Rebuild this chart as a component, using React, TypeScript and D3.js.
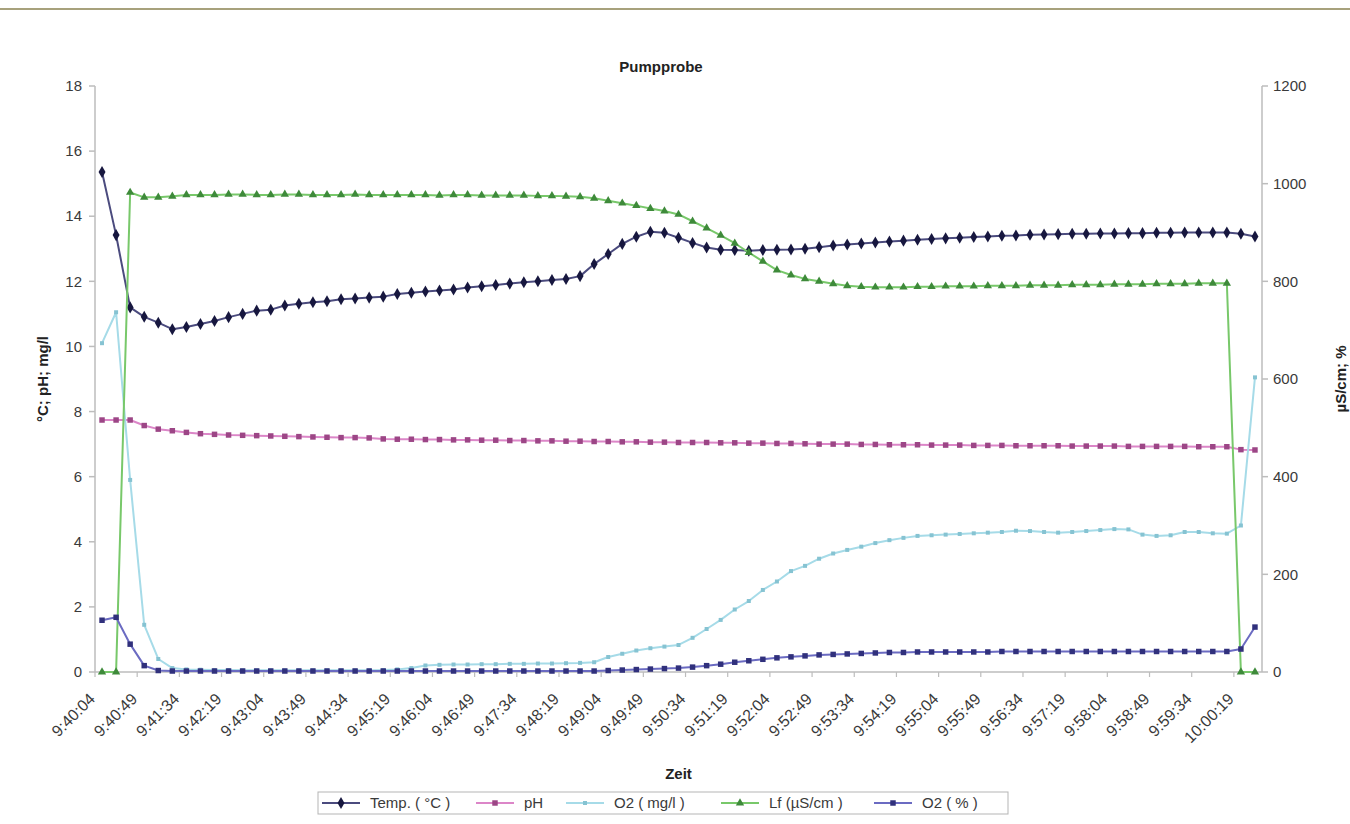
import React from "react";
import * as d3 from "d3";

// Sample times are every 15 s; every third one is labelled on the axis.
const tickLabels = [
  "9:40:04", "9:40:49", "9:41:34", "9:42:19", "9:43:04", "9:43:49", "9:44:34",
  "9:45:19", "9:46:04", "9:46:49", "9:47:34", "9:48:19", "9:49:04", "9:49:49",
  "9:50:34", "9:51:19", "9:52:04", "9:52:49", "9:53:34", "9:54:19", "9:55:04",
  "9:55:49", "9:56:34", "9:57:19", "9:58:04", "9:58:49", "9:59:34", "10:00:19",
];

// Temperature (°C), left axis
const temp = [
  15.36, 13.42, 11.2, 10.91, 10.73, 10.53, 10.6, 10.69, 10.78, 10.9,
  11.0, 11.1, 11.13, 11.26, 11.31, 11.36, 11.39, 11.45, 11.47, 11.5,
  11.53, 11.61, 11.65, 11.69, 11.72, 11.75, 11.81, 11.85, 11.89, 11.93,
  11.97, 12.0, 12.04, 12.07, 12.16, 12.53, 12.84, 13.15, 13.37, 13.52,
  13.49, 13.34, 13.18, 13.04, 12.97, 12.96, 12.94, 12.96, 12.97, 12.98,
  13.0, 13.05, 13.1, 13.13, 13.16, 13.19, 13.22, 13.25, 13.28, 13.3,
  13.32, 13.34, 13.36, 13.38, 13.4, 13.41, 13.43, 13.44, 13.45, 13.46,
  13.46, 13.47, 13.47, 13.48, 13.48, 13.49, 13.49, 13.5, 13.5, 13.5,
  13.5, 13.46, 13.38,
];

// pH, left axis
const ph = [
  7.74, 7.74, 7.74, 7.57, 7.46, 7.41, 7.36, 7.32, 7.3, 7.28,
  7.27, 7.26, 7.25, 7.24, 7.23, 7.22, 7.21, 7.2, 7.2, 7.19,
  7.16, 7.15, 7.15, 7.14, 7.14, 7.13, 7.13, 7.12, 7.12, 7.11,
  7.11, 7.1, 7.1, 7.09, 7.09, 7.08, 7.08, 7.07, 7.07, 7.06,
  7.06, 7.05, 7.05, 7.05, 7.04, 7.04, 7.03, 7.03, 7.02, 7.02,
  7.01, 7.0, 7.0, 7.0, 6.99, 6.99, 6.98, 6.98, 6.98, 6.97,
  6.97, 6.97, 6.96, 6.96, 6.96, 6.95, 6.95, 6.95, 6.95, 6.94,
  6.94, 6.94, 6.94, 6.93, 6.93, 6.93, 6.93, 6.93, 6.92, 6.92,
  6.92, 6.83, 6.82,
];

// Dissolved oxygen (mg/l), left axis
const o2mg = [
  10.1, 11.05, 5.9, 1.45, 0.4, 0.12, 0.08, 0.07, 0.06, 0.06,
  0.05, 0.05, 0.05, 0.05, 0.05, 0.05, 0.05, 0.05, 0.05, 0.05,
  0.06, 0.08, 0.12, 0.2, 0.22, 0.23, 0.23, 0.24, 0.24, 0.25,
  0.25, 0.26, 0.26, 0.27, 0.28, 0.3, 0.46, 0.56, 0.66, 0.73,
  0.78, 0.83, 1.05, 1.32, 1.6, 1.92, 2.18, 2.52, 2.78, 3.1,
  3.26, 3.48, 3.64, 3.75, 3.85, 3.96, 4.05, 4.12, 4.18, 4.2,
  4.22, 4.24, 4.26, 4.28, 4.3, 4.34, 4.33, 4.3, 4.28, 4.3,
  4.33, 4.36, 4.39, 4.38, 4.22, 4.18, 4.2, 4.3, 4.3, 4.26,
  4.25, 4.5, 9.05,
];

// Conductivity (µS/cm), right axis
const lf = [
  0, 0, 982, 972, 972, 974, 977, 977, 977, 978,
  978, 977, 977, 978, 978, 977, 977, 977, 978, 977,
  977, 977, 977, 977, 976, 977, 977, 976, 976, 976,
  976, 975, 975, 974, 973, 970, 965, 960, 955, 949,
  944, 937, 923, 909, 894, 878, 859, 841, 823, 813,
  805, 800, 795, 791, 789, 788, 788, 788, 789, 789,
  790, 790, 790, 791, 791, 791, 792, 792, 792, 793,
  793, 793, 794, 794, 794, 795, 795, 795, 796, 796,
  796, 0, 0,
];

// Oxygen saturation (%), right axis
const o2pct = [
  106, 112, 57, 13, 3, 2, 2, 2, 2, 2,
  2, 2, 2, 2, 2, 2, 2, 2, 2, 2,
  2, 2, 2, 2, 2, 2, 2, 2, 2, 2,
  2, 2, 2, 2, 2, 2, 3, 4, 5, 6,
  7, 8, 10, 13, 16, 20, 23, 26, 29, 31,
  33, 35, 36, 37, 38, 39, 40, 40, 41, 41,
  41, 41, 41, 41, 42, 42, 42, 42, 42, 42,
  42, 42, 42, 42, 42, 42, 42, 42, 42, 42,
  42, 47, 92,
];

const leftTicks = [0, 2, 4, 6, 8, 10, 12, 14, 16, 18];
const rightTicks = [0, 200, 400, 600, 800, 1000, 1200];

const W = 1350;
const H = 824;
const plot = { left: 95, right: 1262, top: 86, bottom: 672 };
const FONT = "'Liberation Sans', Arial, sans-serif";
const AXIS_COLOR = "#bdbdbd";
const TEXT_COLOR = "#3a3a3a";

type Series = {
  name: string;
  values: number[];
  axis: "L" | "R";
  line: string;
  marker: string;
  symbol: d3.SymbolType;
  size: number;
  width: number;
};

const series: Series[] = [
  { name: "Temp. ( °C )", values: temp, axis: "L", line: "#4b4b7e", marker: "#17173f", symbol: d3.symbolDiamond, size: 42, width: 2 },
  { name: "pH", values: ph, axis: "L", line: "#dc86c8", marker: "#9c4686", symbol: d3.symbolSquare, size: 30, width: 2 },
  { name: "O2 ( mg/l )", values: o2mg, axis: "L", line: "#a6dbe8", marker: "#86c3d2", symbol: d3.symbolSquare, size: 16, width: 2 },
  { name: "Lf (µS/cm )", values: lf, axis: "R", line: "#78c86a", marker: "#3e8a3a", symbol: d3.symbolTriangle, size: 30, width: 2 },
  { name: "O2 ( % )", values: o2pct, axis: "R", line: "#6b6bc2", marker: "#30307c", symbol: d3.symbolSquare, size: 30, width: 2 },
];

// Legend layout: start of each sample line and of each label
const legendSampleX = [322, 476, 566, 721, 874];
const legendBox = { x: 318, y: 792, w: 690, h: 22 };

export default function App() {
  const idx = d3.range(temp.length);
  const x = d3.scaleBand<number>().domain(idx).range([plot.left, plot.right]).padding(0);
  const cx = (i: number) => (x(i) as number) + x.bandwidth() / 2;
  const yL = d3.scaleLinear().domain([0, 18]).range([plot.bottom, plot.top]);
  const yR = d3.scaleLinear().domain([0, 1200]).range([plot.bottom, plot.top]);

  const labelIdx = tickLabels.map((_, k) => k * 3);
  const tickBoundaries = d3.range(0, idx.length + 1, 3);

  return (
    <svg
      width={W}
      height={H}
      viewBox={`0 0 ${W} ${H}`}
      style={{ position: "absolute", left: 0, top: 0, background: "#ffffff", fontFamily: FONT }}
    >
      <rect x={0} y={0} width={W} height={H} fill="#ffffff" />
      {/* page rule */}
      <line x1={0} x2={W} y1={9} y2={9} stroke="#a7a17c" strokeWidth={2.2} />

      {/* title */}
      <text x={661} y={72} textAnchor="middle" fontSize={15} fontWeight="bold" fill="#222">
        Pumpprobe
      </text>

      {/* left axis */}
      <line x1={plot.left} x2={plot.left} y1={plot.top} y2={plot.bottom} stroke={AXIS_COLOR} strokeWidth={1.5} />
      {leftTicks.map((t) => (
        <g key={`l${t}`}>
          <line x1={plot.left - 6} x2={plot.left} y1={yL(t)} y2={yL(t)} stroke={AXIS_COLOR} strokeWidth={1.5} />
          <text x={plot.left - 13} y={yL(t)} dy="0.35em" textAnchor="end" fontSize={15} fill={TEXT_COLOR}>
            {t}
          </text>
        </g>
      ))}

      {/* right axis */}
      <line x1={plot.right} x2={plot.right} y1={plot.top} y2={plot.bottom} stroke={AXIS_COLOR} strokeWidth={1.5} />
      {rightTicks.map((t) => (
        <g key={`r${t}`}>
          <line x1={plot.right} x2={plot.right + 6} y1={yR(t)} y2={yR(t)} stroke={AXIS_COLOR} strokeWidth={1.5} />
          <text x={plot.right + 11} y={yR(t)} dy="0.35em" textAnchor="start" fontSize={15} fill={TEXT_COLOR}>
            {t}
          </text>
        </g>
      ))}

      {/* category axis */}
      <line x1={plot.left} x2={plot.right} y1={plot.bottom} y2={plot.bottom} stroke={AXIS_COLOR} strokeWidth={1.5} />
      {tickBoundaries.map((b) => {
        const bx = b < idx.length ? (x(b) as number) : plot.right;
        return <line key={`t${b}`} x1={bx} x2={bx} y1={plot.bottom} y2={plot.bottom + 5} stroke={AXIS_COLOR} strokeWidth={1.2} />;
      })}
      {labelIdx.map((i, k) => (
        <text
          key={`xl${k}`}
          transform={`translate(${cx(i) - 6},${700}) rotate(-45)`}
          textAnchor="end"
          fontSize={16}
          fill={TEXT_COLOR}
        >
          {tickLabels[k]}
        </text>
      ))}

      {/* axis titles */}
      <text transform={`translate(48,${(plot.top + plot.bottom) / 2}) rotate(-90)`} textAnchor="middle" fontSize={15} fontWeight="bold" fill="#222">
        °C; pH; mg/l
      </text>
      <text transform={`translate(1346,${(plot.top + plot.bottom) / 2}) rotate(-90)`} textAnchor="middle" fontSize={15} fontWeight="bold" fill="#222">
        µS/cm; %
      </text>
      <text x={(plot.left + plot.right) / 2} y={779} textAnchor="middle" fontSize={15} fontWeight="bold" fill="#222">
        Zeit
      </text>

      {/* series */}
      {series.map((s) => {
        const y = s.axis === "L" ? yL : yR;
        const path = d3
          .line<number>()
          .x((_, i) => cx(i))
          .y((v) => y(v))(s.values) as string;
        const sym = d3.symbol().type(s.symbol).size(s.size)() as string;
        return (
          <g key={s.name}>
            <path d={path} fill="none" stroke={s.line} strokeWidth={s.width} strokeLinejoin="round" />
            {s.values.map((v, i) => (
              <path key={i} d={sym} transform={`translate(${cx(i)},${y(v)})`} fill={s.marker} />
            ))}
          </g>
        );
      })}

      {/* legend */}
      <rect x={legendBox.x} y={legendBox.y} width={legendBox.w} height={legendBox.h} fill="#ffffff" stroke="#b5b5b5" strokeWidth={1} />
      {series.map((s, k) => {
        const sx = legendSampleX[k];
        const ly = legendBox.y + legendBox.h / 2;
        const sym = d3.symbol().type(s.symbol).size(s.size)() as string;
        return (
          <g key={`lg${k}`}>
            <line x1={sx} x2={sx + 38} y1={ly} y2={ly} stroke={s.line} strokeWidth={2} />
            <path d={sym} transform={`translate(${sx + 19},${ly})`} fill={s.marker} />
            <text x={sx + 48} y={ly} dy="0.36em" fontSize={15} fill={TEXT_COLOR}>
              {s.name}
            </text>
          </g>
        );
      })}
    </svg>
  );
}
